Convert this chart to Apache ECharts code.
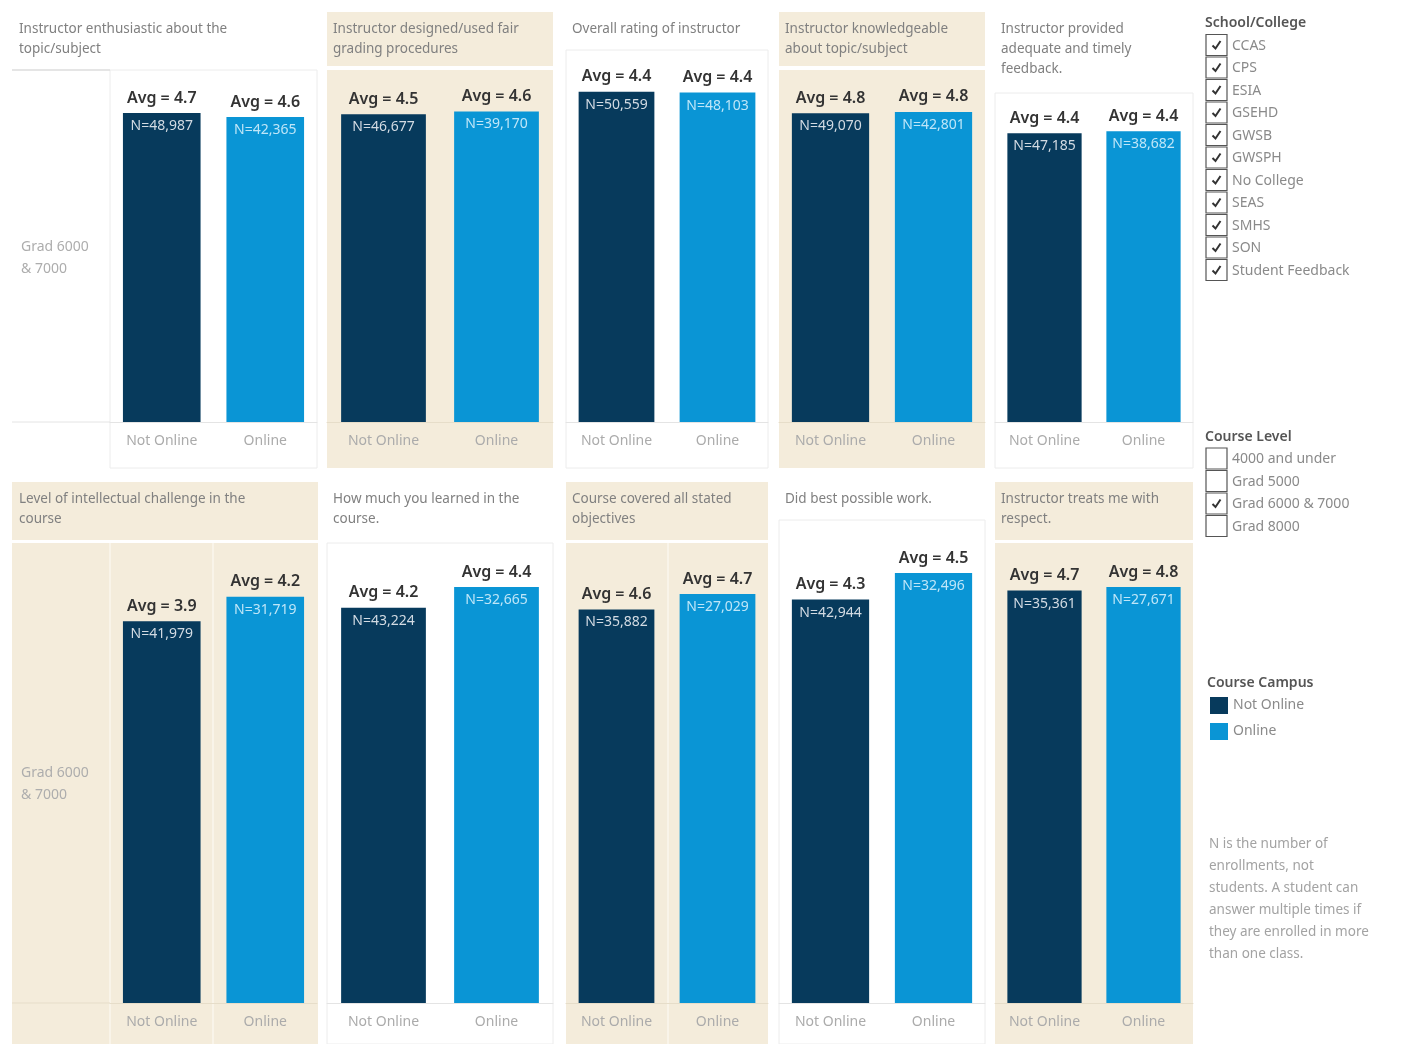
<!DOCTYPE html>
<html>
<head>
<meta charset="utf-8">
<script src="https://cdn.jsdelivr.net/npm/echarts@6/dist/echarts.min.js"></script>
<style>
html,body{margin:0;padding:0;background:#fff;}
#c{width:1401px;height:1044px;}
</style>
</head>
<body>
<div id="c"></div>
<script>
// ---------------- DATA ----------------
const categories = ['Not Online', 'Online'];
const questions = [
  'Instructor enthusiastic about the\ntopic/subject',
  'Instructor designed/used fair\ngrading procedures',
  'Overall rating of instructor',
  'Instructor knowledgeable\nabout topic/subject',
  'Instructor provided\nadequate and timely\nfeedback.',
  'Level of intellectual challenge in the\ncourse',
  'How much you learned in the\ncourse.',
  'Course covered all stated\nobjectives',
  'Did best possible work.',
  'Instructor treats me with\nrespect.'
];
const rowLabel = 'Grad 6000\n& 7000';
const avgNotOnline = [4.68, 4.54, 4.42, 4.78, 4.41, 3.92, 4.20, 4.56, 4.26, 4.73];
const avgOnline    = [4.62, 4.58, 4.41, 4.80, 4.44, 4.17, 4.42, 4.74, 4.54, 4.77];
const nNotOnline = [48987, 46677, 50559, 49070, 47185, 41979, 43224, 35882, 42944, 35361];
const nOnline    = [42365, 39170, 48103, 42801, 38682, 31719, 32665, 27029, 32496, 27671];
const schools = ['CCAS', 'CPS', 'ESIA', 'GSEHD', 'GWSB', 'GWSPH', 'No College', 'SEAS', 'SMHS', 'SON', 'Student Feedback'];
const schoolChecked = [true, true, true, true, true, true, true, true, true, true, true];
const courseLevels = ['4000 and under', 'Grad 5000', 'Grad 6000 & 7000', 'Grad 8000'];
const levelChecked = [false, false, true, false];
const footnote = 'N is the number of\nenrollments, not\nstudents. A student can\nanswer multiple times if\nthey are enrolled in more\nthan one class.';

// ---------------- LAYOUT / STYLE ----------------
const FONT = '"Noto Sans", "Open Sans", sans-serif';
const DARK = '#073a5c';
const LIGHT = '#0a95d5';
const BEIGE = '#f4ecdb';
const panelL = [12, 327, 566, 779, 995];
const panelR = [318, 553, 768, 985, 1193];
const plotL  = [110, 327, 566, 779, 995];
const plotR  = [317, 553, 768, 985, 1193];
const rowTitleTop = [12, 482];
const rowTitleBot = [66, 540];
const rowBottom = [468, 1044];
const baseline = [422, 1003];
const boxTop = [70, 70, 50, 70, 93, 543, 543, 543, 520, 543];
const gridTop = [92, 83, 48.5, 99, 94.5, 516, 532.5, 571.5, 529.5, 567];

const grids = [], xAxes = [], yAxes = [], series = [], graphics = [];

for (let i = 0; i < 10; i++) {
  const row = Math.floor(i / 5), col = i % 5;
  const beige = (row + col) % 2 === 1;
  if (beige) {
    graphics.push({type:'rect', z:-10, silent:true,
      shape:{x:panelL[col], y:rowTitleTop[row], width:panelR[col]-panelL[col], height:rowTitleBot[row]-rowTitleTop[row]},
      style:{fill:BEIGE}});
    graphics.push({type:'rect', z:-10, silent:true,
      shape:{x:panelL[col], y:boxTop[i], width:panelR[col]-panelL[col], height:rowBottom[row]-boxTop[i]},
      style:{fill:BEIGE}});
    if (col === 0) {
      graphics.push({type:'line', z:-9, silent:true, shape:{x1:110, y1:boxTop[i], x2:110, y2:rowBottom[row]}, style:{stroke:'#fbf7ee', lineWidth:1.5}});
      graphics.push({type:'line', z:-9, silent:true, shape:{x1:213, y1:boxTop[i], x2:213, y2:rowBottom[row]}, style:{stroke:'#fbf7ee', lineWidth:1.5}});
      graphics.push({type:'line', z:-9, silent:true, shape:{x1:12, y1:baseline[row], x2:110, y2:baseline[row]}, style:{stroke:'#e6ddc9', lineWidth:1}});
    }
    if (col === 2) {
      graphics.push({type:'line', z:-9, silent:true, shape:{x1:668, y1:boxTop[i], x2:668, y2:rowBottom[row]}, style:{stroke:'#fbf7ee', lineWidth:1.5}});
    }
  } else {
    graphics.push({type:'rect', z:-10, silent:true,
      shape:{x:plotL[col], y:boxTop[i], width:plotR[col]-plotL[col], height:rowBottom[row]-boxTop[i]},
      style:{fill:'#fff', stroke:'#ececec', lineWidth:1}});
    if (col === 0) {
      graphics.push({type:'line', z:-9, silent:true, shape:{x1:12, y1:boxTop[i], x2:110, y2:boxTop[i]}, style:{stroke:'#dcdcdc', lineWidth:1.5}});
      graphics.push({type:'line', z:-9, silent:true, shape:{x1:12, y1:baseline[row], x2:110, y2:baseline[row]}, style:{stroke:'#e4e4e4', lineWidth:1}});
    }
  }
  // panel title
  graphics.push({type:'text', z:5, silent:true,
    style:{text:questions[i], x:panelL[col] + (col === 0 ? 7 : 6), y:rowTitleTop[row] + 7,
      font:'13.5px ' + FONT, fill:'#808080', lineHeight:20,
      align:'left', verticalAlign:'top', textAlign:'left', textVerticalAlign:'top'}});
  // row header
  if (col === 0) {
    graphics.push({type:'text', z:5, silent:true,
      style:{text:rowLabel, x:21, y:(row === 0 ? 236 : 762),
        font:'14px ' + FONT, fill:'#adadad', lineHeight:22,
        align:'left', verticalAlign:'top', textAlign:'left', textVerticalAlign:'top'}});
  }

  grids.push({left:plotL[col], width:plotR[col]-plotL[col], top:gridTop[i], height:baseline[row]-gridTop[i]});
  xAxes.push({gridIndex:i, type:'category', data:categories,
    axisTick:{show:false},
    axisLine:{show:true, lineStyle:{color: beige ? '#e6ddc9' : '#e4e4e4', width:1}},
    axisLabel:{color:'#ababab', fontSize:14, fontFamily:FONT, margin:12}});
  yAxes.push({gridIndex:i, type:'value', min:0, max:5, show:false, splitLine:{show:false}});

  const mkLabel = (nVal, nColor) => ({
    show:true, position:'top', distance:0, offset:[0, 29],
    formatter: p => '{a|Avg = ' + p.value.toFixed(1) + '}\n{n|N=' + nVal.toLocaleString('en-US') + '}',
    rich:{
      a:{fontSize:16, fontWeight:600, color:'#333', lineHeight:24, fontFamily:FONT},
      n:{fontSize:14, color:nColor, lineHeight:32, fontFamily:FONT}
    }
  });
  series.push({type:'bar', name:'Not Online', xAxisIndex:i, yAxisIndex:i,
    data:[avgNotOnline[i], '-'], barGap:'-100%', barCategoryGap:'25%',
    itemStyle:{color:DARK}, label:mkLabel(nNotOnline[i], '#d3dbe3'), silent:true});
  series.push({type:'bar', name:'Online', xAxisIndex:i, yAxisIndex:i,
    data:['-', avgOnline[i]], barGap:'-100%', barCategoryGap:'25%',
    itemStyle:{color:LIGHT}, label:mkLabel(nOnline[i], '#bfe6f8'), silent:true});
}

// ---- filter legends (checkbox lists) ----
function checkList(title, titleY, items, checked, firstY) {
  graphics.push({type:'text', z:5, silent:true,
    style:{text:title, x:1205, y:titleY, font:'600 14px ' + FONT, fill:'#555',
      align:'left', verticalAlign:'middle', textAlign:'left', textVerticalAlign:'middle'}});
  items.forEach((name, k) => {
    const cy = firstY + k * 22.5;
    graphics.push({type:'rect', z:5, silent:true,
      shape:{x:1206, y:cy - 10.5, width:21, height:21},
      style:{fill:'#fff', stroke:'#555', lineWidth:1.2}});
    if (checked[k]) {
      graphics.push({type:'polyline', z:6, silent:true,
        shape:{points:[[1212.5, cy + 0.5], [1215.5, cy + 3.5], [1220.5, cy - 4]]},
        style:{stroke:'#333', lineWidth:2, fill:null}});
    }
    graphics.push({type:'text', z:5, silent:true,
      style:{text:name, x:1232, y:cy + 1, font:'14px ' + FONT, fill:'#8a8a8a',
        align:'left', verticalAlign:'middle', textAlign:'left', textVerticalAlign:'middle'}});
  });
}
checkList('School/College', 23, schools, schoolChecked, 45);
checkList('Course Level', 437, courseLevels, levelChecked, 458.5);

graphics.push({type:'text', z:5, silent:true,
  style:{text:'Course Campus', x:1207, y:683, font:'600 14px ' + FONT, fill:'#555',
    align:'left', verticalAlign:'middle', textAlign:'left', textVerticalAlign:'middle'}});
graphics.push({type:'text', z:5, silent:true,
  style:{text:footnote, x:1209, y:833, font:'13.5px ' + FONT, fill:'#a3a3a3', lineHeight:22,
    align:'left', verticalAlign:'top', textAlign:'left', textVerticalAlign:'top'}});

const chart = echarts.init(document.getElementById('c'));
chart.setOption({
  backgroundColor:'#fff',
  animation:false,
  legend:{data:['Not Online', 'Online'], orient:'vertical', left:1205, top:692,
    itemWidth:18, itemHeight:17, itemGap:9, icon:'rect',
    textStyle:{color:'#8a8a8a', fontSize:14, fontFamily:FONT}, selectedMode:false},
  grid:grids,
  xAxis:xAxes,
  yAxis:yAxes,
  series:series,
  graphic:{elements:graphics}
});
</script>
</body>
</html>
